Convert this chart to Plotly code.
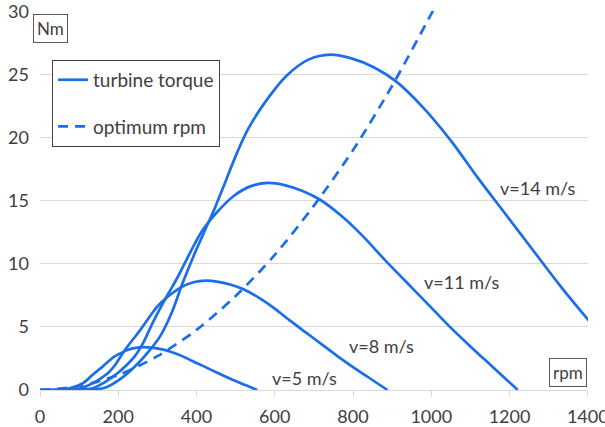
import plotly.graph_objects as go

# ---- data ----
rpm_v14 = [0, 70, 140, 168, 210, 252, 280, 308, 336, 364, 392, 420, 448, 476, 504, 532, 574, 630, 686, 742, 798, 854, 910, 980, 1050, 1120, 1190, 1260, 1330, 1400, 1470, 1554]
torque_v14 = [0, 0, 0.06, 0.20, 0.98, 2.16, 3.14, 4.31, 6.08, 8.43, 10.58, 12.54, 14.50, 16.66, 18.82, 20.68, 22.74, 24.89, 26.17, 26.56, 26.25, 25.55, 24.45, 22.35, 19.75, 16.76, 13.92, 11.07, 8.23, 5.59, 3.04, 0]

rpm_v11 = [0, 55, 110, 132, 165, 198, 220, 242, 264, 286, 308, 330, 352, 374, 396, 418, 451, 495, 539, 583, 627, 671, 715, 770, 825, 880, 935, 990, 1045, 1100, 1155, 1221]
torque_v11 = [0, 0, 0.04, 0.12, 0.61, 1.33, 1.94, 2.66, 3.75, 5.20, 6.53, 7.74, 8.95, 10.29, 11.62, 12.77, 14.04, 15.37, 16.15, 16.40, 16.21, 15.77, 15.09, 13.80, 12.19, 10.35, 8.59, 6.84, 5.08, 3.45, 1.88, 0]

rpm_v8 = [0, 40, 80, 96, 120, 144, 160, 176, 192, 208, 224, 240, 256, 272, 288, 304, 328, 360, 392, 424, 456, 488, 520, 560, 600, 640, 680, 720, 760, 800, 840, 888]
torque_v8 = [0, 0, 0.02, 0.06, 0.32, 0.70, 1.02, 1.41, 1.98, 2.75, 3.46, 4.10, 4.74, 5.44, 6.14, 6.75, 7.42, 8.13, 8.54, 8.67, 8.57, 8.34, 7.98, 7.30, 6.45, 5.47, 4.54, 3.62, 2.69, 1.82, 0.99, 0]

rpm_v5 = [0, 25, 50, 60, 75, 90, 100, 110, 120, 130, 140, 150, 160, 170, 180, 190, 205, 225, 245, 265, 285, 305, 325, 350, 375, 400, 425, 450, 475, 500, 525, 555]
torque_v5 = [0, 0, 0.01, 0.03, 0.13, 0.28, 0.40, 0.55, 0.78, 1.08, 1.35, 1.60, 1.85, 2.13, 2.40, 2.64, 2.90, 3.18, 3.34, 3.39, 3.35, 3.26, 3.12, 2.85, 2.52, 2.14, 1.78, 1.41, 1.05, 0.71, 0.39, 0]

rpm_opt = [0, 100, 200, 300, 400, 500, 600, 700, 800, 900, 1000, 1020]
torque_opt = [0, 0.30, 1.19, 2.68, 4.76, 7.44, 10.7, 14.6, 19.0, 24.1, 29.8, 31.0]

speed_labels = ["v=14 m/s", "v=11 m/s", "v=8 m/s", "v=5 m/s"]
label_rpm = [1272, 1078, 874, 677]
label_torque = [16.0, 8.55, 3.5, 0.95]

x_ticks = [0, 200, 400, 600, 800, 1000, 1200, 1400]
y_ticks = [0, 5, 10, 15, 20, 25, 30]

BLUE = "#1c6ee8"
TXT = "#404040"
GRID = "#d9d9d9"
FONT = "Lato"

fig = go.Figure()
curves = [(rpm_v14, torque_v14), (rpm_v11, torque_v11), (rpm_v8, torque_v8), (rpm_v5, torque_v5)]
for i, (xs, ys) in enumerate(curves):
    fig.add_trace(go.Scatter(
        x=xs, y=ys, mode="lines", name="turbine torque",
        line=dict(color=BLUE, width=2.7, shape="spline", smoothing=1.0),
        legendgroup="torque", showlegend=(i == 0), cliponaxis=True,
    ))
fig.add_trace(go.Scatter(
    x=rpm_opt, y=torque_opt, mode="lines", name="optimum rpm",
    line=dict(color=BLUE, width=2.7, dash="10px,7px", shape="spline", smoothing=0.8),
    legendgroup="opt", showlegend=True,
))

for t, xr, yr in zip(speed_labels, label_rpm, label_torque):
    fig.add_annotation(x=xr, y=yr, xref="x", yref="y", text=t, showarrow=False,
                       font=dict(family=FONT, size=18, color=TXT))

fig.add_annotation(x=0.0195, y=0.955, xref="paper", yref="paper", text="Nm", showarrow=False,
                   xanchor="center", yanchor="middle",
                   font=dict(family=FONT, size=17, color=TXT), bordercolor="#595959",
                   borderwidth=1, borderpad=3, bgcolor="white")
fig.add_annotation(x=0.963, y=0.047, xref="paper", yref="paper", text="rpm", showarrow=False,
                   xanchor="center", yanchor="middle",
                   font=dict(family=FONT, size=17, color=TXT), bordercolor="#595959",
                   borderwidth=1, borderpad=3, bgcolor="white")

fig.update_layout(
    width=605, height=427,
    margin=dict(l=40, r=17, t=11, b=37, autoexpand=False),
    paper_bgcolor="white", plot_bgcolor="white",
    font=dict(family=FONT, size=18, color=TXT),
    showlegend=True,
    legend=dict(
        x=0.022, y=0.871, xanchor="left", yanchor="top",
        bgcolor="white", bordercolor="#404040", borderwidth=1,
        font=dict(family=FONT, size=19, color=TXT),
        traceorder="grouped", tracegroupgap=19, itemwidth=30,
    ),
    xaxis=dict(
        range=[0, 1400.5], tickvals=x_ticks, showgrid=False, zeroline=False,
        showline=True, linecolor=GRID, linewidth=1, automargin=False,
        ticks="outside", ticklen=6, tickcolor=GRID, ticklabeloverflow="allow",
        tickfont=dict(family=FONT, size=18, color=TXT), ticklabelstandoff=4,
    ),
    yaxis=dict(
        range=[0, 30.02], tickvals=y_ticks, showgrid=True, gridcolor=GRID, gridwidth=1,
        zeroline=False, showline=False, automargin=False, ticklabeloverflow="allow",
        tickfont=dict(family=FONT, size=18, color=TXT), ticklabelstandoff=10,
    ),
)

fig.write_html("out.html")
